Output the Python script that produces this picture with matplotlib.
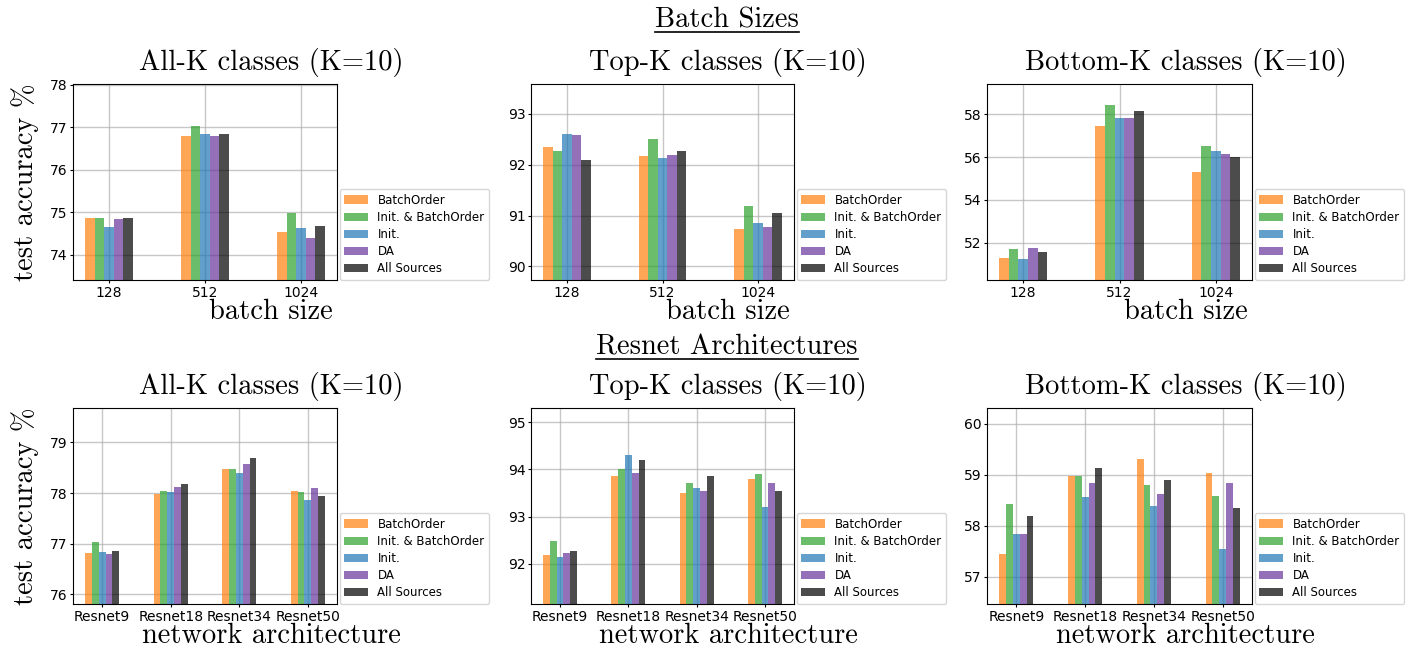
import numpy as np
import matplotlib
matplotlib.use("Agg")
import matplotlib.pyplot as plt
from matplotlib.lines import Line2D

# Data
sources = ["BatchOrder", "Init. & BatchOrder", "Init.", "DA", "All Sources"]
colors = ["tab:orange", "tab:green", "tab:blue", "#663399", "black"]

batch_sizes = ["128", "512", "1024"]
archs = ["Resnet9", "Resnet18", "Resnet34", "Resnet50"]

# rows = source, cols = category
batch_all = [
    [74.86, 76.80, 74.53],
    [74.86, 77.03, 74.98],
    [74.65, 76.84, 74.63],
    [74.84, 76.80, 74.39],
    [74.86, 76.84, 74.68],
]
batch_top = [
    [92.34, 92.18, 90.73],
    [92.28, 92.50, 91.18],
    [92.60, 92.14, 90.85],
    [92.58, 92.20, 90.77],
    [92.09, 92.28, 91.05],
]
batch_bottom = [
    [51.30, 57.47, 55.31],
    [51.72, 58.45, 56.53],
    [51.25, 57.84, 56.30],
    [51.77, 57.84, 56.16],
    [51.58, 58.17, 56.02],
]
arch_all = [
    [76.82, 77.99, 78.47, 78.05],
    [77.04, 78.05, 78.47, 78.03],
    [76.84, 78.03, 78.39, 77.86],
    [76.80, 78.13, 78.57, 78.11],
    [76.86, 78.17, 78.70, 77.95],
]
arch_top = [
    [92.18, 93.85, 93.51, 93.80],
    [92.49, 94.01, 93.72, 93.91],
    [92.15, 94.31, 93.61, 93.21],
    [92.22, 93.93, 93.55, 93.72],
    [92.28, 94.20, 93.85, 93.55],
]
arch_bottom = [
    [57.44, 58.98, 59.31, 59.04],
    [58.43, 58.98, 58.80, 58.58],
    [57.84, 58.56, 58.39, 57.54],
    [57.84, 58.84, 58.62, 58.84],
    [58.19, 59.14, 58.89, 58.35],
]

titles = ["All-K classes (K=10)", "Top-K classes (K=10)", "Bottom-K classes (K=10)"]

W, H = 1417, 650
fig = plt.figure(figsize=(W / 100, H / 100), dpi=100)

serif = "cmr10"
big = 20.5

def px_rect(left, top, width, height):
    return [left / W, 1 - (top + height) / H, width / W, height / H]

lefts = [73, 531, 987]
widths = [264, 263, 265]
tops = [84, 408]
height = 196

panels = [
    (0, 0, batch_sizes, batch_all, (73.4, 78.02), [74, 75, 76, 77, 78], "batch size"),
    (0, 1, batch_sizes, batch_top, (89.73, 93.59), [90, 91, 92, 93], "batch size"),
    (0, 2, batch_sizes, batch_bottom, (50.26, 59.42), [52, 54, 56, 58], "batch size"),
    (1, 0, archs, arch_all, (75.81, 79.68), [76, 77, 78, 79], "network architecture"),
    (1, 1, archs, arch_top, (91.15, 95.30), [92, 93, 94, 95], "network architecture"),
    (1, 2, archs, arch_bottom, (56.46, 60.31), [57, 58, 59, 60], "network architecture"),
]

bw = 0.1
for row, col, cats, vals, ylim, yticks, xlab in panels:
    ax = fig.add_axes(px_rect(lefts[col], tops[row], widths[col], height))
    x = np.arange(len(cats))
    for i, name in enumerate(sources):
        ax.bar(x + (i - 2) * bw, vals[i], width=bw, color=colors[i], alpha=0.7, label=name)
    ax.set_xticks(x)
    ax.set_xticklabels(cats)
    ax.set_yticks(yticks)
    ax.set_ylim(ylim)
    ax.tick_params(labelsize=10, length=2, pad=2)
    ax.grid(True, color="#b0b0b0", linewidth=1, alpha=0.7)
    ax.set_axisbelow(True)
    ax.set_title(titles[col], fontfamily=serif, fontsize=big, x=0.75, pad=10)
    ax.set_xlabel(xlab, fontfamily=serif, fontsize=big)
    ax.xaxis.set_label_coords(0.75, -0.095)
    if col == 0:
        ax.set_ylabel("test accuracy %", fontfamily=serif, fontsize=big)
        ax.yaxis.set_label_coords(-0.13, 0.5)
    ax.legend(loc="lower left", bbox_to_anchor=(1.01, 0.0), borderaxespad=0,
              fontsize=8.5, labelspacing=0.35)

# section headers with underline
headers = [("Batch Sizes", 20), ("Resnet Architectures", 347)]
txts = []
for label, ypx in headers:
    t = fig.text(727 / W, 1 - ypx / H, label, fontfamily=serif, fontsize=big,
                 ha="center", va="center")
    txts.append(t)

fig.canvas.draw()
renderer = fig.canvas.get_renderer()
for t in txts:
    bb = t.get_window_extent(renderer)
    yline = bb.y0 + 1
    fig.add_artist(Line2D([bb.x0 / W, bb.x1 / W], [yline / H, yline / H],
                          color="black", linewidth=1.2, transform=fig.transFigure))

fig.savefig("out.png", dpi=100)
